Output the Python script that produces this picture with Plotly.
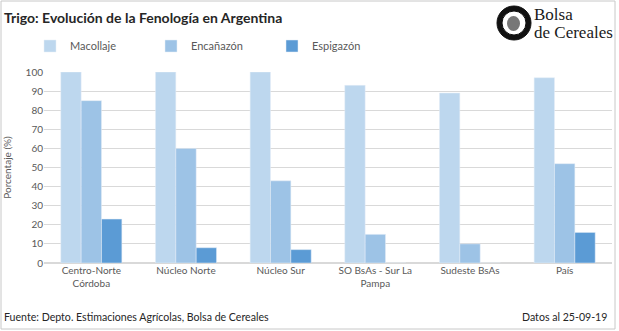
import plotly.graph_objects as go

categories = ["Centro-Norte<br>Córdoba", "Núcleo Norte", "Núcleo Sur",
              "SO BsAs - Sur La<br>Pampa", "Sudeste BsAs", "País"]
macollaje = [100, 100, 100, 93, 89, 97]
encanazon = [85, 60, 43, 15, 10, 52]
espigazon = [23, 8, 7, 0, 0, 16]
y_ticks = [0, 10, 20, 30, 40, 50, 60, 70, 80, 90, 100]

FONT = "Lato, Open Sans, sans-serif"
fig = go.Figure()
fig.add_bar(x=categories, y=macollaje, name="Macollaje", marker_color="#BDD7EE")
fig.add_bar(x=categories, y=encanazon, name="Encañazón", marker_color="#9DC3E6")
fig.add_bar(x=categories, y=espigazon, name="Espigazón", marker_color="#5B9BD5")

def px(x):
    return (x - 44) / 568

def py(y):
    return (263 - y) / 191

fig.update_layout(
    width=619, height=331,
    margin=dict(l=44, r=7, t=72, b=68),
    paper_bgcolor="white", plot_bgcolor="white",
    barmode="group", bargap=0.355, bargroupgap=0,
    font=dict(family=FONT, size=10, color="#595959"),
    showlegend=True,
    legend=dict(orientation="h", x=px(30), y=py(46), xanchor="left", yanchor="middle",
                font=dict(size=11, color="#595959"), itemwidth=30,
                entrywidth=76, traceorder="normal", bgcolor="rgba(0,0,0,0)"),
    xaxis=dict(showgrid=False, showline=False, ticks="", tickfont=dict(size=10)),
    yaxis=dict(range=[0, 100], tickvals=y_ticks, showgrid=True, gridcolor="#D9D9D9",
               zeroline=True, zerolinecolor="#D9D9D9", ticks="", tickfont=dict(size=10),
               title=dict(text="Porcentaje (%)", font=dict(size=10), standoff=12)),
)

fig.add_annotation(text="<b>Trigo: Evolución de la Fenología en Argentina</b>",
                   xref="paper", yref="paper", x=px(2), y=py(17), xanchor="left",
                   yanchor="middle", showarrow=False,
                   font=dict(size=14, color="#262626", family=FONT))
fig.add_annotation(text="Fuente: Depto. Estimaciones Agrícolas, Bolsa de Cereales",
                   xref="paper", yref="paper", x=px(2), y=py(317), xanchor="left",
                   yanchor="middle", showarrow=False,
                   font=dict(size=10.6, color="#262626", family=FONT))
fig.add_annotation(text="Datos al 25-09-19",
                   xref="paper", yref="paper", x=px(609), y=py(317), xanchor="right",
                   yanchor="middle", showarrow=False,
                   font=dict(size=10.6, color="#262626", family=FONT))
# logo
fig.add_annotation(text="Bolsa", xref="paper", yref="paper",
                   x=px(532), y=py(15), xanchor="left", yanchor="middle",
                   showarrow=False,
                   font=dict(size=17, color="#1a1a1a", family="Liberation Serif, serif"))
fig.add_annotation(text="de Cereales", xref="paper", yref="paper",
                   x=px(532), y=py(32), xanchor="left", yanchor="middle",
                   showarrow=False,
                   font=dict(size=17, color="#1a1a1a", family="Liberation Serif, serif"))
fig.add_shape(type="circle", xref="paper", yref="paper",
              x0=px(497), x1=px(531), y0=py(40), y1=py(6),
              fillcolor="#111111", line=dict(color="#111111", width=1))
fig.add_shape(type="circle", xref="paper", yref="paper",
              x0=px(502), x1=px(526), y0=py(35), y1=py(11),
              fillcolor="#ffffff", line=dict(color="#111111", width=1))
fig.add_shape(type="circle", xref="paper", yref="paper",
              x0=px(507), x1=px(520), y0=py(31), y1=py(16),
              fillcolor="#777777", line=dict(color="#111111", width=0))
# frame
fig.add_shape(type="rect", xref="paper", yref="paper",
              x0=px(1), x1=px(615), y0=py(329), y1=py(1),
              line=dict(color="#C8C8C8", width=1), fillcolor="rgba(0,0,0,0)")

fig.write_html("out.html")
